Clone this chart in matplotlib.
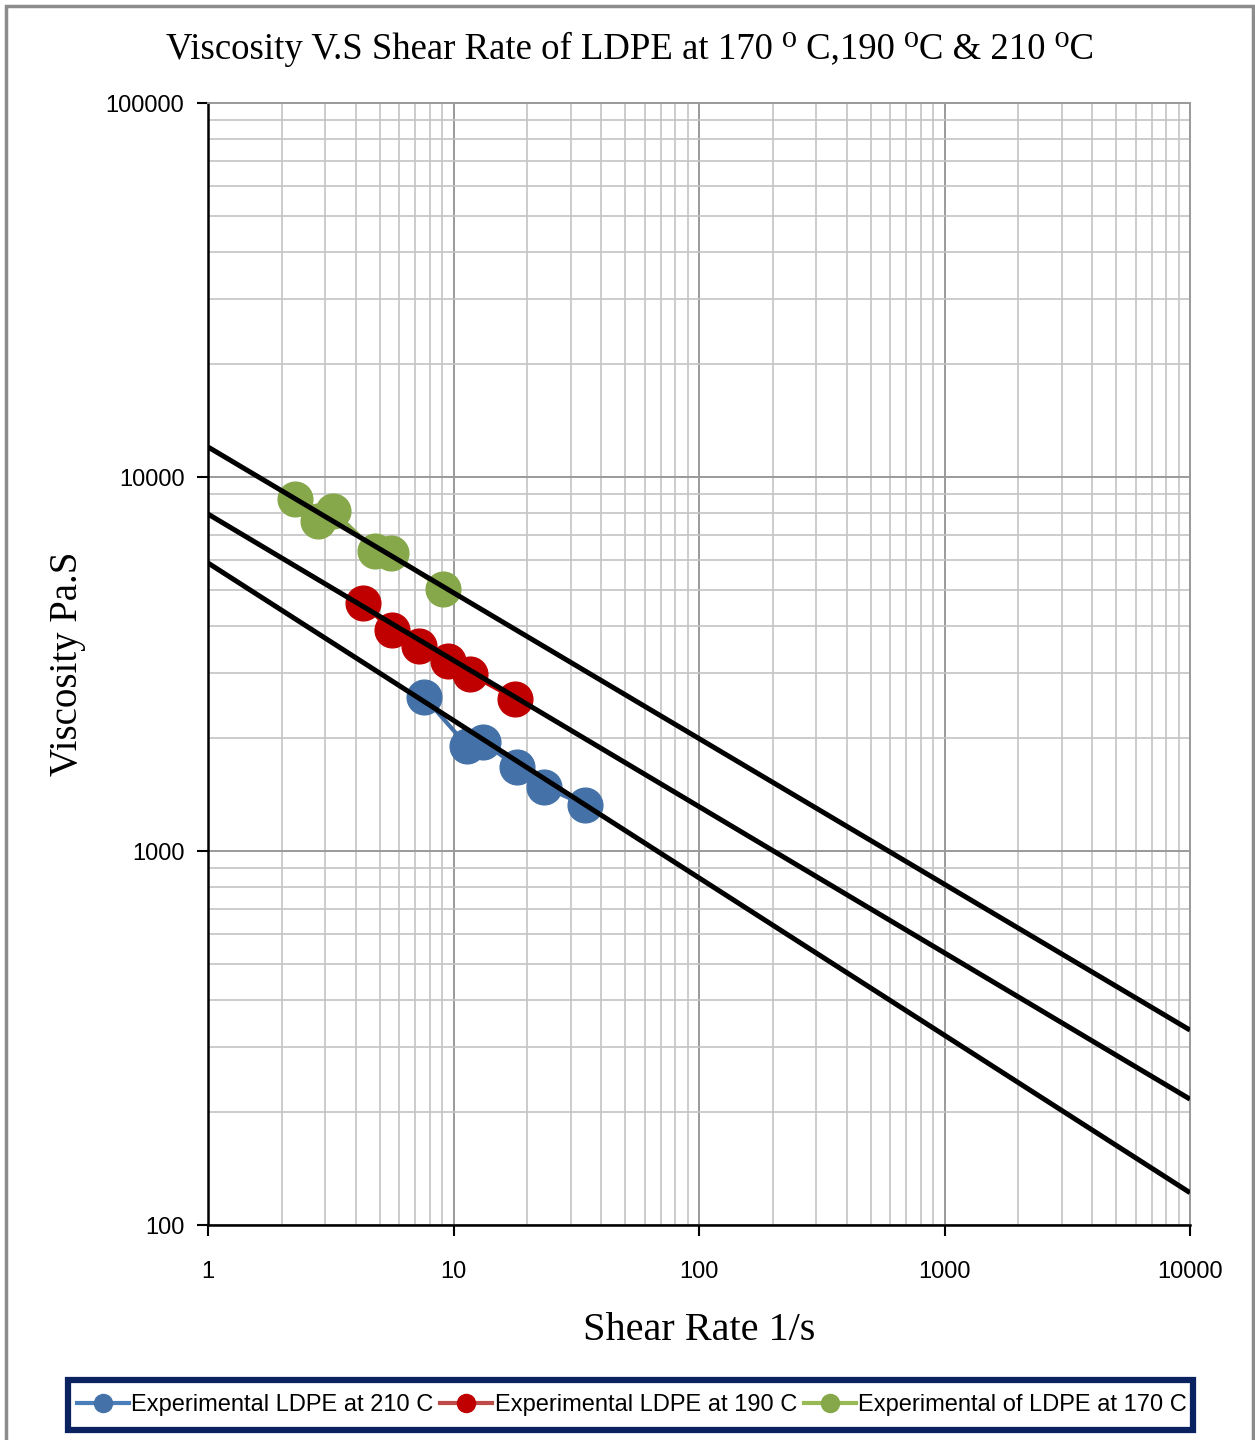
import matplotlib
matplotlib.use("Agg")
import matplotlib.pyplot as plt
from matplotlib.patches import Rectangle
from matplotlib.lines import Line2D
import numpy as np

# ---- data ----
shear_210 = [7.61, 11.38, 13.15, 18.2, 23.4, 34.3]
visc_210 = [2576, 1909, 1958, 1678, 1485, 1327]
shear_190 = [4.27, 5.60, 7.26, 9.47, 11.67, 17.8]
visc_190 = [4590, 3900, 3535, 3222, 2973, 2555]
shear_170 = [2.26, 2.81, 3.22, 4.79, 5.55, 9.04]
visc_170 = [8710, 7640, 8130, 6350, 6250, 5030]

fit_x = [1, 10000]
fit_170 = [12030, 332]
fit_190 = [7960, 217]
fit_210 = [5890, 122]

labels = ["Experimental LDPE at 210 C", "Experimental LDPE at 190 C", "Experimental of LDPE at 170 C"]
xticks = [1, 10, 100, 1000, 10000]
yticks = [100, 1000, 10000, 100000]

serif = ['Liberation Serif', 'DejaVu Serif']
sans = ['Liberation Sans', 'DejaVu Sans']

fig = plt.figure(figsize=(12.55, 14.4), dpi=100)
ax = fig.add_axes([208/1255, 1-1225/1440, (1190-208)/1255, (1225-103)/1440])

ax.set_xscale('log')
ax.set_yscale('log')
ax.set_xlim(1, 10000)
ax.set_ylim(100, 100000)

ax.grid(True, which='major', color='#9a9a9a', linewidth=1.4)
ax.grid(True, which='minor', color='#c4c4c4', linewidth=1.2)
ax.set_axisbelow(True)

c_blue = '#4472A8'
c_red = '#C00000'
c_green = '#86A84A'

ax.plot(shear_210, visc_210, '-o', color=c_blue, lw=3, ms=25, zorder=3)
ax.plot(shear_190, visc_190, '-o', color=c_red, lw=3, ms=25, zorder=3)
ax.plot(shear_170, visc_170, '-o', color=c_green, lw=3, ms=25, zorder=3)

for fy in (fit_170, fit_190, fit_210):
    ax.plot(fit_x, fy, color='black', lw=3.6, zorder=4, solid_capstyle='butt')

ax.set_xticks(xticks)
ax.set_xticklabels([str(v) for v in xticks])
ax.set_yticks(yticks)
ax.set_yticklabels([str(v) for v in yticks])
ax.tick_params(which='minor', length=0)
ax.tick_params(which='major', length=8, width=1.5, color='black', direction='out', labelsize=17)
ax.tick_params(axis='x', pad=18)
ax.tick_params(axis='y', pad=9)
for lab in ax.get_xticklabels() + ax.get_yticklabels():
    lab.set_family(sans)

for s in ('top', 'right'):
    ax.spines[s].set_color('#9a9a9a')
    ax.spines[s].set_linewidth(1.4)
for s in ('left', 'bottom'):
    ax.spines[s].set_color('black')
    ax.spines[s].set_linewidth(1.8)

ax.set_xlabel('Shear Rate 1/s', fontsize=29, family=serif, labelpad=21)
ax.set_ylabel('Viscosity Pa.S', fontsize=28, family=serif, labelpad=14)

fig.text(630/1255, 1-49/1440, 'Viscosity V.S Shear Rate of LDPE at 170 \u2070 C,190 \u2070C & 210 \u2070C',
         ha='center', va='center', fontsize=26.5, family=serif)

# outer chart border
fig.patches.append(Rectangle((6/1255, -0.01), (1253-6)/1255, 1-6/1440+0.01, transform=fig.transFigure,
                             fill=False, edgecolor='#8c8c8c', linewidth=2.5))
# legend box
fig.patches.append(Rectangle((68/1255, 1-1430/1440), (1193-68)/1255, (1430-1380)/1440, transform=fig.transFigure,
                             fill=False, edgecolor='#0B2260', linewidth=4.5, zorder=5))

handles = [Line2D([0], [0], color='#4A7EBB', lw=3, marker='o', ms=13, markerfacecolor=c_blue, markeredgecolor=c_blue),
           Line2D([0], [0], color='#BE4B48', lw=3, marker='o', ms=13, markerfacecolor=c_red, markeredgecolor=c_red),
           Line2D([0], [0], color='#98B954', lw=3, marker='o', ms=13, markerfacecolor=c_green, markeredgecolor=c_green)]
leg = fig.legend(handles, labels, loc='center', bbox_to_anchor=(632/1255, 1-1405/1440), ncol=3,
                 frameon=False, prop={'family': sans, 'size': 17}, handlelength=2.2, handletextpad=0.1,
                 columnspacing=0.3)

fig.savefig('out.png', dpi=100)
